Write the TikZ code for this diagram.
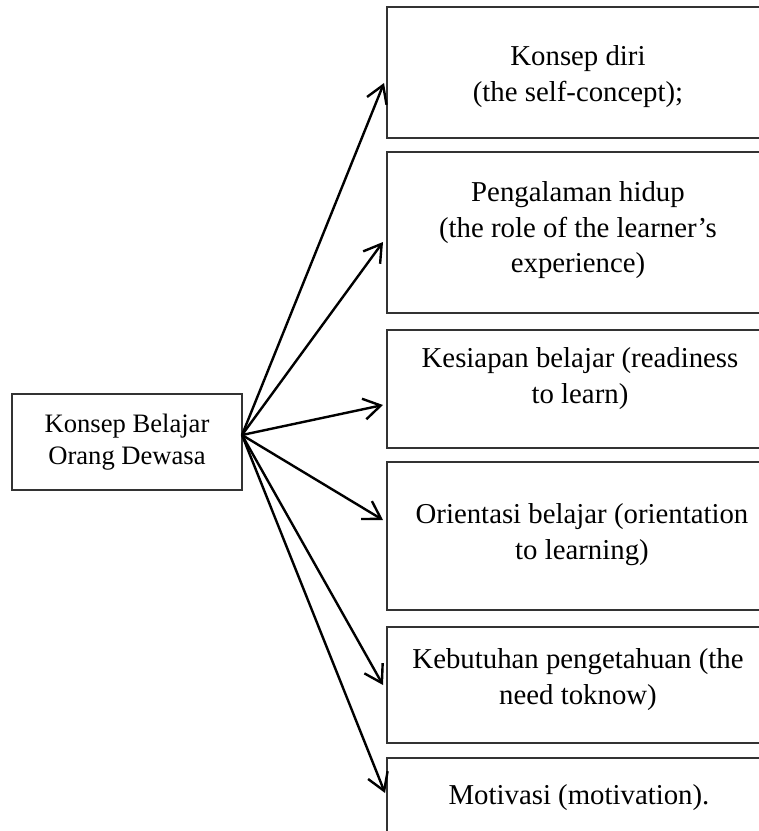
\documentclass[tikz,border=0pt]{standalone}
\usepackage{fontspec}
\setmainfont{Liberation Serif}
\usetikzlibrary{arrows.meta}

\begin{document}
\begin{tikzpicture}[x=1pt,y=-1pt,>={Straight Barb[length=17pt,width=21pt]},
  box/.style={draw=black!80,line width=1.5pt,inner sep=0pt,minimum width=413pt},
  lbl/.style={align=center,inner sep=0pt,font=\fontsize{28.8}{35.5}\selectfont},
  arr/.style={->,line width=2.4pt}]
  \clip (0,0) rectangle (759,831);
  \fill[white] (0,0) rectangle (759,831);
  % source box
  \node[box,minimum width=230pt,minimum height=96pt,align=center,
        font=\fontsize{26.6}{32}\selectfont] (src) at (127,442) {Konsep Belajar\\Orang Dewasa};
  \coordinate (hub) at (242,435);
  % target boxes
  \node[box,minimum height=131pt] (b1) at (593.5,72.5) {};
  \node[box,minimum height=161pt] (b2) at (593.5,232.5) {};
  \node[box,minimum height=118pt] (b3) at (593.5,389) {};
  \node[box,minimum height=148pt] (b4) at (593.5,536) {};
  \node[box,minimum height=116pt] (b5) at (593.5,685) {};
  \node[box,minimum height=102pt] (b6) at (593.5,809) {};
  % texts
  \node[lbl] (t1) at (578,76.5) {Konsep diri\\(the self-concept);};
  \node[lbl] (t2) at (578,230.5) {Pengalaman hidup\\(the role of the learner’s\\experience)};
  \node[lbl] (t3) at (580,378.5) {Kesiapan belajar (readiness\\to learn)};
  \node[lbl] (t4) at (582,534.5) {Orientasi belajar (orientation\\to learning)};
  \node[lbl] (t5) at (578,679.5) {Kebutuhan pengetahuan (the\\need toknow)};
  \node[lbl] (t6) at (579,798) {Motivasi (motivation).};
  % arrow ends
  \coordinate (e1) at (384,83);
  \coordinate (e2) at (383,242);
  \coordinate (e3) at (383,405);
  \coordinate (e4) at (383,520);
  \coordinate (e5) at (383,685);
  \coordinate (e6) at (385,793);
  \draw[arr] (hub) -- (e1);
  \draw[arr] (hub) -- (e2);
  \draw[arr] (hub) -- (e3);
  \draw[arr] (hub) -- (e4);
  \draw[arr] (hub) -- (e5);
  \draw[arr] (hub) -- (e6);
\end{tikzpicture}
\end{document}
